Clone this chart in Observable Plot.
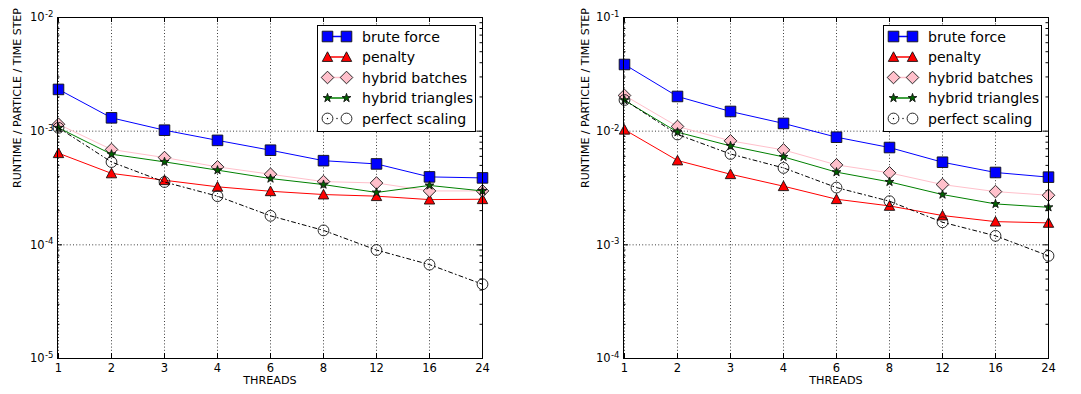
<!DOCTYPE html>
<html>
<head>
<meta charset="utf-8">
<script src="https://cdn.jsdelivr.net/npm/d3@7"></script>
<script src="https://cdn.jsdelivr.net/npm/@observablehq/plot@0.6"></script>
<style>
  body { margin: 0; background: #fff; }
  #root { position: relative; width: 1081px; height: 394px; font-family: "DejaVu Sans", sans-serif; }
  .panel { position: absolute; top: 0; }
  .legend { position: absolute; }
</style>
</head>
<body>
<div id="root"></div>
<script>
// ---------- data ----------
const threads = [1, 2, 3, 4, 6, 8, 12, 16, 24];
const seriesNames = ["brute force", "penalty", "hybrid batches", "hybrid triangles", "perfect scaling"];

const bruteLeft     = [2.33e-3, 1.31e-3, 1.02e-3, 8.3e-4, 6.8e-4, 5.5e-4, 5.15e-4, 3.96e-4, 3.88e-4];
const penaltyLeft   = [6.4e-4, 4.25e-4, 3.7e-4, 3.24e-4, 2.96e-4, 2.77e-4, 2.68e-4, 2.5e-4, 2.52e-4];
const batchesLeft   = [1.15e-3, 6.9e-4, 5.86e-4, 4.85e-4, 4.18e-4, 3.6e-4, 3.5e-4, 2.98e-4, 2.98e-4];
const trianglesLeft = [1.07e-3, 6.27e-4, 5.37e-4, 4.54e-4, 3.83e-4, 3.39e-4, 2.89e-4, 3.33e-4, 2.98e-4];
const perfectLeft   = [1.07e-3, 5.35e-4, 3.57e-4, 2.68e-4, 1.8e-4, 1.34e-4, 9.0e-5, 6.7e-5, 4.5e-5];

const bruteRight     = [3.86e-2, 2.02e-2, 1.49e-2, 1.17e-2, 8.85e-3, 7.18e-3, 5.33e-3, 4.33e-3, 3.94e-3];
const penaltyRight   = [1.03e-2, 5.52e-3, 4.18e-3, 3.28e-3, 2.52e-3, 2.2e-3, 1.81e-3, 1.6e-3, 1.56e-3];
const batchesRight   = [2.06e-2, 1.1e-2, 8.22e-3, 6.84e-3, 5.05e-3, 4.3e-3, 3.39e-3, 2.94e-3, 2.73e-3];
const trianglesRight = [1.87e-2, 9.8e-3, 7.42e-3, 5.94e-3, 4.36e-3, 3.58e-3, 2.77e-3, 2.29e-3, 2.14e-3];
const perfectRight   = [1.88e-2, 9.35e-3, 6.3e-3, 4.75e-3, 3.19e-3, 2.42e-3, 1.58e-3, 1.2e-3, 8.0e-4];

const decadesLeft  = [1e-5, 1e-4, 1e-3, 1e-2];
const decadesRight = [1e-4, 1e-3, 1e-2, 1e-1];
const exponentsLeft  = ["-5", "-4", "-3", "-2"];
const exponentsRight = ["-4", "-3", "-2", "-1"];
const minorMultipliers = [2, 3, 4, 5, 6, 7, 8, 9];
const xLabel = "THREADS";
const yLabel = "RUNTIME / PARTICLE / TIME STEP";

// ---------- symbols (matplotlib-like) ----------
const rOf = size => Math.sqrt(size / Math.PI);
const symSquare = { draw(c, s) { const r = rOf(s); c.rect(-r, -r, 2 * r, 2 * r); } };
const symTriangle = { draw(c, s) { const r = rOf(s); c.moveTo(0, -r); c.lineTo(r, r * 0.85); c.lineTo(-r, r * 0.85); c.closePath(); } };
const symDiamond = { draw(c, s) { const r = rOf(s); c.moveTo(0, -r); c.lineTo(r, 0); c.lineTo(0, r); c.lineTo(-r, 0); c.closePath(); } };
const symStar = { draw(c, s) { const R = rOf(s), ri = R * 0.381966;
  for (let i = 0; i < 10; i++) { const a = -Math.PI / 2 + i * Math.PI / 5, rr = i % 2 ? ri : R;
    const x = rr * Math.cos(a), y = rr * Math.sin(a); i ? c.lineTo(x, y) : c.moveTo(x, y); }
  c.closePath(); } };
const symCircle = { draw(c, s) { const r = rOf(s); c.moveTo(r, 0); c.arc(0, 0, r, 0, 2 * Math.PI); } };

const styles = [
  { line: "#0000ff", fill: "#0000ff", sym: symSquare, r: 5.3, dash: null },
  { line: "#ff0000", fill: "#ff0000", sym: symTriangle, r: 5.2, dash: null },
  { line: "#ffc0cb", fill: "#ffc0cb", sym: symDiamond, r: 6.3, dash: null },
  { line: "#008000", fill: "#006400", sym: symStar, r: 4.6, dash: null },
  { line: "#000000", fill: "none", sym: symCircle, r: 5.4, dash: "4,3,1,3" }
];

function makePanel(opts) {
  const { left, width, ml, mr, mt, mb, height, decades, exponents, series } = opts;
  const plotW = width - ml - mr, plotH = height - mt - mb;
  const minors = [];
  decades.slice(0, -1).forEach(d => minorMultipliers.forEach(m => minors.push(d * m)));
  const rows = series.map((vals, k) => vals.map((v, i) => ({ t: threads[i], v, k })));

  const marks = [
    Plot.gridX(threads, { x: d => d, stroke: "#000", strokeOpacity: 0.85, strokeDasharray: "1,2.2", strokeWidth: 0.9 }),
    Plot.gridY(decades, { y: d => d, stroke: "#000", strokeOpacity: 0.85, strokeDasharray: "1,2.2", strokeWidth: 0.9 }),
    Plot.tickY(decades, { y: d => d, insetRight: plotW - 5, stroke: "#000" }),
    Plot.tickY(decades, { y: d => d, insetLeft: plotW - 5, stroke: "#000" }),
    Plot.tickY(minors, { y: d => d, insetRight: plotW - 2.5, stroke: "#000" }),
    Plot.tickY(minors, { y: d => d, insetLeft: plotW - 2.5, stroke: "#000" }),
    Plot.tickX(threads, { x: d => d, insetTop: plotH - 5, stroke: "#000" }),
    Plot.tickX(threads, { x: d => d, insetBottom: plotH - 5, stroke: "#000" }),
  ];
  rows.forEach((data, k) => {
    const st = styles[k];
    marks.push(Plot.line(data, { x: "t", y: "v", stroke: st.line, strokeWidth: 1, strokeDasharray: st.dash || undefined }));
    marks.push(Plot.dot(data, { x: "t", y: "v", symbol: st.sym, r: st.r, fill: st.fill, stroke: "#111", strokeWidth: 0.9 }));
  });
  marks.push(
    Plot.frame({ stroke: "#000", strokeWidth: 1 }),
    Plot.axisX({ ticks: threads, tickSize: 0, tickPadding: 5, label: null, fontSize: 11.5 }),
    Plot.axisY({ ticks: decades, tickSize: 0, tickPadding: 4, label: null, fontSize: 11.5,
      tickFormat: d => exponents[decades.indexOf(d)] }),
    Plot.text([xLabel], { text: d => d, frameAnchor: "bottom", dy: 25, fontSize: 11.2 }),
    Plot.text([yLabel], { text: d => d, frameAnchor: "left", rotate: -90, dx: -opts.ylabelOffset, fontSize: 11 })
  );

  const svg = Plot.plot({
    width, height, marginLeft: ml, marginRight: mr, marginTop: mt, marginBottom: mb,
    style: { fontFamily: "DejaVu Sans, sans-serif", fontSize: "11px", color: "#000", background: "transparent" },
    x: { type: "point", domain: threads, padding: 0, axis: null },
    y: { type: "log", domain: [decades[0], decades[decades.length - 1]], axis: null },
    marks
  });
  // mathtext-like superscripts for decade labels: "10" + raised exponent
  d3.select(svg).selectAll('g[aria-label="y-axis tick label"] text').each(function () {
    const exp = this.textContent;
    this.textContent = "10";
    d3.select(this).append("tspan").attr("dy", "-0.5em").attr("font-size", "8.5px").attr("dx", "0.5")
      .text(exp);
  });
  const wrap = document.createElement("div");
  wrap.className = "panel";
  wrap.style.left = left + "px";
  wrap.appendChild(svg);
  document.getElementById("root").appendChild(wrap);

  // legend (upper right, inside frame)
  const lw = 158, lh = 106;
  const lx = left + width - mr - 7 - lw, ly = mt + 8;
  const lg = d3.select("#root").append("svg").attr("class", "legend")
    .attr("width", lw + 2).attr("height", lh + 2)
    .style("left", lx + "px").style("top", ly + "px");
  lg.append("rect").attr("x", 0.5).attr("y", 0.5).attr("width", lw).attr("height", lh)
    .attr("fill", "#fff").attr("stroke", "#000");
  seriesNames.forEach((name, k) => {
    const st = styles[k];
    const y = 11.5 + k * 20.5;
    const x1 = 10.5, x2 = 29.5;
    if (st.dash) {
      lg.append("circle").attr("cx", (x1 + x2) / 2).attr("cy", y).attr("r", 0.7).attr("fill", "#000");
      lg.append("circle").attr("cx", x1).attr("cy", y).attr("r", 0.7).attr("fill", "#000");
    } else {
      lg.append("line").attr("x1", x1).attr("x2", x2).attr("y1", y).attr("y2", y)
        .attr("stroke", st.line).attr("stroke-width", 1.5);
    }
    [x1, x2].forEach(x => lg.append("path")
      .attr("d", d3.symbol().type(st.sym).size(Math.PI * st.r * st.r)())
      .attr("transform", `translate(${x},${y})`)
      .attr("fill", st.fill).attr("stroke", "#111").attr("stroke-width", 0.9));
    lg.append("text").attr("x", 45).attr("y", y).attr("dy", "0.36em")
      .attr("font-family", "DejaVu Sans, sans-serif").attr("font-size", 14.1).attr("fill", "#000")
      .text(name);
  });
}

makePanel({ left: 0, width: 540, ml: 57, mr: 58, mt: 17, mb: 36, height: 394,
  decades: decadesLeft, exponents: exponentsLeft, ylabelOffset: 40,
  series: [bruteLeft, penaltyLeft, batchesLeft, trianglesLeft, perfectLeft] });
makePanel({ left: 540, width: 541, ml: 83, mr: 33, mt: 17, mb: 36, height: 394,
  decades: decadesRight, exponents: exponentsRight, ylabelOffset: 38,
  series: [bruteRight, penaltyRight, batchesRight, trianglesRight, perfectRight] });
</script>
</body>
</html>
